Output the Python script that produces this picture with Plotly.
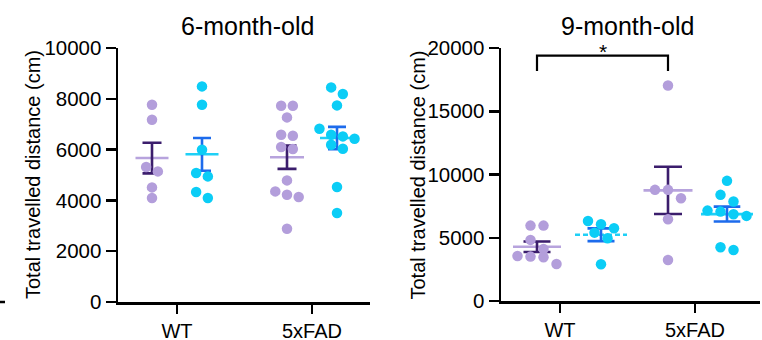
import numpy as np
import plotly.graph_objects as go

# ---------------- data ----------------
categories = ["WT", "5xFAD"]
panel_titles = ["6-month-old", "9-month-old"]
y_title = "Total travelled distance (cm)"
y_ticks_6m = [0, 2000, 4000, 6000, 8000, 10000]
y_ticks_9m = [0, 5000, 10000, 15000, 20000]
significance_label = "*"

# 6-month-old (purple = group A, cyan = group B)
m6_wt_a = [7768, 7177, 5315, 5142, 4512, 4094]
m6_wt_b = [8488, 7768, 5996, 5079, 4945, 4331, 4094]
m6_fad_a = [7728, 7728, 7268, 6587, 6547, 6102, 6024, 4787, 4354, 4224, 4134, 2886]
m6_fad_b = [8449, 8189, 7740, 6823, 6587, 6520, 6429, 6193, 6035, 4528, 3504]

# 9-month-old
m9_wt_a = [5960, 5960, 4830, 4115, 3560, 3510, 3455, 2930]
m9_wt_b = [6330, 6070, 5750, 5405, 4960, 2905]
m9_fad_a = [17040, 8785, 8785, 8128, 6466, 3245]
m9_fad_b = [9497, 8390, 7860, 7147, 7068, 6860, 6727, 4250, 4036]

# ---------------- layout constants (pixels) ----------------
W, H = 762, 340
PX_PER_CAT = 135.0
panels = [
    dict(x0=118, x1=370, ytop=48, ybot=302, cat_px=[177, 312], ymax=10000,
         ticks=y_ticks_6m, title_x=247, ytitle_x=33,
         groups=[(m6_wt_a, 0, -25, "a", 16.5, 9.5, "solid"),
                 (m6_wt_b, 0, 25, "b", 16.5, 9.0, "solid"),
                 (m6_fad_a, 1, -25, "a", 17, 9.5, "solid"),
                 (m6_fad_b, 1, 25, "b", 17, 9.0, "solid")],
         step=11.7),
    dict(x0=501, x1=760, ytop=48, ybot=301, cat_px=[560, 695], ymax=20000,
         ticks=y_ticks_9m, title_x=627, ytitle_x=418,
         groups=[(m9_wt_a, 0, -23, "a", 24, 13.5, "solid"),
                 (m9_wt_b, 0, 41, "b", 26, 13.5, "5px,3px"),
                 (m9_fad_a, 1, -27, "a", 24.5, 14, "solid"),
                 (m9_fad_b, 1, 32, "b", 26, 13.3, "solid")],
         step=13.0),
]

COL = {
    "a": dict(pt="#b39edb", mean="#b7a3dd", sem="#3b1d6c"),
    "b": dict(pt="#0bcdf6", mean="#1fd0f6", sem="#1d6bec"),
}
FONT = "Liberation Sans, Arial, sans-serif"


def swarm_offsets(vals, px_per_unit, step):
    """Simple row-based beeswarm in pixel space."""
    vals = np.asarray(vals, dtype=float)
    order = np.argsort(-vals, kind="stable")
    ypx = vals * px_per_unit
    offs = np.zeros(len(vals))
    rows, cur = [], []
    for i in order:
        if cur and (ypx[cur[0]] - ypx[i]) >= 0.9 * step:
            rows.append(cur)
            cur = []
        cur.append(i)
    if cur:
        rows.append(cur)
    for r in rows:
        n = len(r)
        for k, i in enumerate(r):
            offs[i] = (k - (n - 1) / 2.0) * step
    return offs


fig = go.Figure()
layout_axes = {}
annotations = []

for p_i, P in enumerate(panels):
    xa = "x" if p_i == 0 else "x2"
    ya = "y" if p_i == 0 else "y2"
    cx0 = P["cat_px"][0]
    xr = [(P["x0"] - cx0) / PX_PER_CAT, (P["x1"] - cx0) / PX_PER_CAT]
    px_per_unit = (P["ybot"] - P["ytop"]) / P["ymax"]

    centers = {}
    for vals, cat, off_px, key, mean_half, cap_half, dash in P["groups"]:
        c = COL[key]
        vals_arr = np.asarray(vals, dtype=float)
        mean = vals_arr.mean()
        sem = vals_arr.std(ddof=1) / np.sqrt(len(vals_arr))
        center = cat + off_px / PX_PER_CAT
        centers[(cat, key)] = center
        hw = mean_half / PX_PER_CAT
        # mean line
        fig.add_trace(go.Scatter(
            x=[center - hw, center + hw], y=[mean, mean], mode="lines",
            line=dict(color=c["mean"], width=2.6, dash=dash),
            xaxis=xa, yaxis=ya, showlegend=False, hoverinfo="skip"))
        # SEM
        fig.add_trace(go.Scatter(
            x=[center], y=[mean], mode="markers",
            marker=dict(size=1, color="rgba(0,0,0,0)"),
            error_y=dict(type="data", array=[sem], symmetric=True,
                         color=c["sem"], thickness=2.6, width=cap_half),
            xaxis=xa, yaxis=ya, showlegend=False, hoverinfo="skip"))
        # points
        offs = swarm_offsets(vals, px_per_unit, P["step"])
        fig.add_trace(go.Scatter(
            x=center + offs / PX_PER_CAT, y=vals_arr, mode="markers",
            marker=dict(size=10.5, color=c["pt"], line=dict(width=0)),
            xaxis=xa, yaxis=ya, showlegend=False, cliponaxis=False))

    if p_i == 1:
        # significance bracket WT(a) vs 5xFAD(a)
        xl = centers[(0, "a")]
        xrb = centers[(1, "a")]
        fig.add_trace(go.Scatter(
            x=[xl, xl, xrb, xrb], y=[18180, 19390, 19390, 18180], mode="lines",
            line=dict(color="black", width=2.2), xaxis=xa, yaxis=ya,
            showlegend=False, hoverinfo="skip", cliponaxis=False))
        annotations.append(dict(
            x=(xl + xrb) / 2, y=19390, xref=xa, yref=ya, text=significance_label,
            showarrow=False, yanchor="bottom", yshift=-9,
            font=dict(family=FONT, size=21, color="black")))

    dom_x = [P["x0"] / W, P["x1"] / W]
    dom_y = [1 - P["ybot"] / H, 1 - P["ytop"] / H]
    suffix = "" if p_i == 0 else "2"
    layout_axes["xaxis" + suffix] = dict(
        domain=dom_x, range=xr, tickmode="array", tickvals=[0, 1],
        ticktext=categories, ticks="outside", ticklen=9, tickwidth=2.5,
        tickcolor="black", showline=True, linewidth=2.5, linecolor="black",
        showgrid=False, zeroline=False, fixedrange=True,
        tickfont=dict(family=FONT, size=20, color="black"),
        anchor=ya)
    layout_axes["yaxis" + suffix] = dict(
        domain=dom_y, range=[0, P["ymax"]], tickmode="array",
        tickvals=P["ticks"], ticktext=[str(t) for t in P["ticks"]],
        ticks="outside", ticklen=10, tickwidth=2.5, tickcolor="black",
        showline=True, linewidth=2.5, linecolor="black", showgrid=False,
        zeroline=False, fixedrange=True,
        tickfont=dict(family=FONT, size=20.5, color="black"),
        anchor=xa)

    annotations.append(dict(
        x=P["title_x"] / W, y=1 - 26 / H, xref="paper", yref="paper",
        text=panel_titles[p_i], showarrow=False, xanchor="center",
        yanchor="middle", font=dict(family=FONT, size=25, color="black")))
    annotations.append(dict(
        x=P["ytitle_x"] / W, y=1 - ((P["ytop"] + P["ybot"]) / 2) / H,
        xref="paper", yref="paper", text=y_title, textangle=-90,
        showarrow=False, xanchor="center", yanchor="middle",
        font=dict(family=FONT, size=20, color="black")))

fig.update_layout(
    width=W, height=H, autosize=False,
    margin=dict(l=0, r=0, t=0, b=0, autoexpand=False),
    paper_bgcolor="white", plot_bgcolor="white",
    annotations=annotations,
    shapes=[dict(type="line", xref="paper", yref="paper",
                 x0=0, x1=5 / W, y0=1 - 302 / H, y1=1 - 302 / H,
                 line=dict(color="black", width=2.5))],
    **layout_axes)

fig.write_html(
    "out.html",
    config={"displayModeBar": False, "staticPlot": True},
    post_script="document.body.style.margin='0';document.body.style.overflow='hidden';")
